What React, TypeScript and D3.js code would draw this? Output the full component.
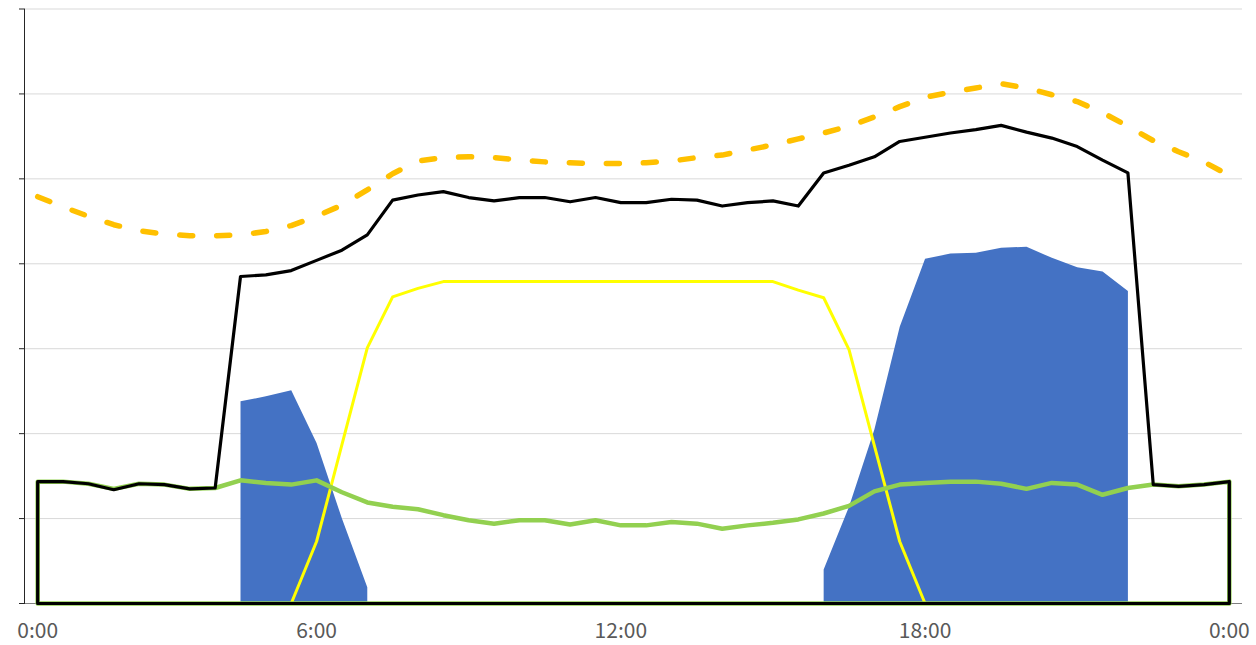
import React from "react";
import * as d3 from "d3";

// 48 half-hour categories
const categories: number[] = d3.range(48);

const tickIndices = [0, 11, 23, 35, 47];
const tickLabels = ["0:00", "6:00", "12:00", "18:00", "0:00"];

const yTicks = [0, 10, 20, 30, 40, 50, 60, 70];

// black outlined area
const blackSeries = [
  14.35, 14.35, 14.1, 13.4, 14.1, 14.0, 13.5, 13.6, 38.5, 38.7, 39.2, 40.4,
  41.6, 43.4, 47.5, 48.1, 48.5, 47.8, 47.4, 47.8, 47.8, 47.3, 47.8, 47.2,
  47.2, 47.6, 47.5, 46.8, 47.2, 47.4, 46.8, 50.7, 51.6, 52.6, 54.4, 54.9,
  55.4, 55.8, 56.3, 55.5, 54.8, 53.8, 52.2, 50.7, 14.0, 13.8, 14.0, 14.35,
];

// green outlined area
const greenSeries = [
  14.35, 14.35, 14.1, 13.5, 14.1, 14.0, 13.5, 13.6, 14.5, 14.2, 14.0, 14.5,
  13.1, 11.9, 11.4, 11.1, 10.4, 9.8, 9.4, 9.8, 9.8, 9.3, 9.8, 9.2, 9.2, 9.6,
  9.4, 8.8, 9.2, 9.5, 9.9, 10.6, 11.5, 13.2, 14.0, 14.2, 14.35, 14.35, 14.1,
  13.5, 14.2, 14.0, 12.8, 13.6, 14.0, 13.8, 14.0, 14.35,
];

// blue filled area (null = no value)
const blueSeries: (number | null)[] = [
  null, null, null, null, null, null, null, null, 23.8, 24.4, 25.1, 18.9,
  10.0, 1.9, null, null, null, null, null, null, null, null, null, null,
  null, null, null, null, null, null, null, 4.0, 11.4, 20.5, 32.6, 40.6,
  41.2, 41.3, 41.9, 42.0, 40.7, 39.6, 39.1, 36.8, null, null, null, null,
];

// yellow line
const yellowSeries = [
  0, 0, 0, 0, 0, 0, 0, 0, 0, 0, 0, 7.3, 18.7, 30.1, 36.1, 37.1, 37.9, 37.9,
  37.9, 37.9, 37.9, 37.9, 37.9, 37.9, 37.9, 37.9, 37.9, 37.9, 37.9, 37.9,
  36.9, 36.0, 29.9, 18.6, 7.3, 0, 0, 0, 0, 0, 0, 0, 0, 0, 0, 0, 0, 0,
];

// orange dashed line
const orangeSeries = [
  47.9, 46.7, 45.6, 44.6, 43.9, 43.5, 43.3, 43.3, 43.4, 43.8, 44.5, 45.6,
  46.9, 48.7, 50.6, 52.1, 52.5, 52.6, 52.5, 52.2, 52.0, 51.9, 51.8, 51.8,
  51.9, 52.1, 52.5, 52.8, 53.4, 54.0, 54.7, 55.4, 56.2, 57.3, 58.5, 59.6,
  60.2, 60.7, 61.2, 60.7, 59.9, 59.1, 57.8, 56.2, 54.5, 53.2, 52.0, 50.4,
];

const W = 1256;
const H = 645;
const plotLeft = 25;
const plotRight = 1242;
const plotTop = 9;
const plotBottom = 603.5;

export default function App() {
  const x = d3
    .scalePoint<number>()
    .domain(categories)
    .range([plotLeft, plotRight])
    .padding(0.5);
  const y = d3.scaleLinear().domain([0, 70]).range([plotBottom, plotTop]);

  const outlineArea = d3
    .area<number>()
    .x((_, i) => x(i) as number)
    .y0(y(0))
    .y1((d) => y(d));

  const blueArea = d3
    .area<number | null>()
    .defined((d) => d != null)
    .x((_, i) => x(i) as number)
    .y0(y(0))
    .y1((d) => y(d as number));

  const line = d3
    .line<number>()
    .x((_, i) => x(i) as number)
    .y((d) => y(d));

  const font = "'Noto Sans CJK SC', 'Noto Sans', sans-serif";

  return (
    <svg
      width={W}
      height={H}
      style={{ position: "absolute", left: 0, top: 0, background: "#fff" }}
    >
      {/* gridlines */}
      {yTicks.slice(1).map((t) => (
        <line
          key={t}
          x1={plotLeft}
          x2={plotRight}
          y1={y(t)}
          y2={y(t)}
          stroke="#D9D9D9"
          strokeWidth={1}
        />
      ))}
      {/* bottom axis line */}
      <line
        x1={plotLeft}
        x2={plotRight}
        y1={y(0)}
        y2={y(0)}
        stroke="#7F7F7F"
        strokeWidth={1}
      />
      {/* y axis */}
      <line
        x1={24.5}
        x2={24.5}
        y1={plotTop}
        y2={plotBottom}
        stroke="#262626"
        strokeWidth={1}
      />
      {yTicks.map((t) => (
        <line
          key={"t" + t}
          x1={19}
          x2={25}
          y1={y(t)}
          y2={y(t)}
          stroke="#262626"
          strokeWidth={1}
        />
      ))}

      {/* blue filled area */}
      <path d={blueArea(blueSeries) || ""} fill="#4472C4" stroke="none" />

      {/* yellow line */}
      <path
        d={line(yellowSeries) || ""}
        fill="none"
        stroke="#FFFF00"
        strokeWidth={3}
        strokeLinejoin="round"
      />

      {/* green outlined area */}
      <path
        d={outlineArea(greenSeries) || ""}
        fill="none"
        stroke="#92D050"
        strokeWidth={4.5}
        strokeLinejoin="round"
      />

      {/* black outlined area */}
      <path
        d={outlineArea(blackSeries) || ""}
        fill="none"
        stroke="#000000"
        strokeWidth={3.2}
        strokeLinejoin="round"
      />

      {/* orange dashed line */}
      <path
        d={line(orangeSeries) || ""}
        fill="none"
        stroke="#FFC000"
        strokeWidth={5.5}
        strokeLinecap="round"
        strokeLinejoin="round"
        strokeDasharray="13 24"
      />

      {/* x tick labels */}
      {tickIndices.map((idx, i) => (
        <text
          key={"l" + i}
          x={x(idx) as number}
          y={638}
          textAnchor="middle"
          fontFamily={font}
          fontSize={21}
          fill="#595959"
        >
          {tickLabels[i]}
        </text>
      ))}
    </svg>
  );
}
